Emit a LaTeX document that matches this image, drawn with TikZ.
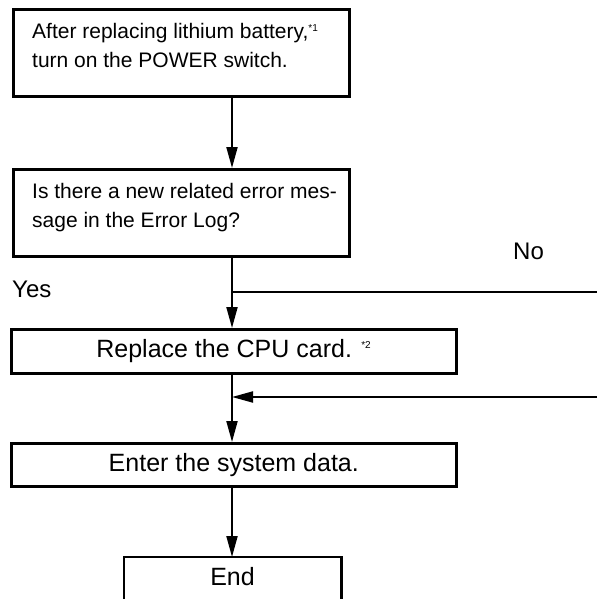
\documentclass[tikz,border=0pt]{standalone}
\usepackage{fontspec}
\setmainfont{Liberation Sans}
\usetikzlibrary{arrows.meta}
\newcommand{\supmark}[1]{\textsuperscript{\fontsize{10}{10}\selectfont #1}}
\tikzset{
  x=1pt, y=-1pt,
  stepbox/.style={draw, line width=2.6pt, inner sep=0pt},
  bigtext/.style={font=\fontsize{25}{29}\selectfont},
  smalltext/.style={font=\fontsize{21}{29}\selectfont, align=left, inner sep=0pt, anchor=base west},
  conn/.style={line width=2pt},
  arr/.style={line width=2pt, -{Triangle[length=21pt,width=11pt]}},
  lbl/.style={inner sep=0pt, font=\fontsize{24}{29}\selectfont, anchor=base west},
}
\begin{document}
\begin{tikzpicture}
\useasboundingbox (0,0) rectangle (597,599);
\coordinate (main) at (232,0);
\node[stepbox, anchor=north west, minimum width=336pt, minimum height=87pt] (b1) at (12,8) {};
\node[smalltext] (t1) at (32,68)
  {After replacing lithium battery,\supmark{*1}\\turn on the POWER switch.};
\node[stepbox, anchor=north west, minimum width=336pt, minimum height=87pt] (b2) at (12,168) {};
\node[smalltext] (t2) at (32,227)
  {Is there a new related error mes-\\sage in the Error Log?};
\node[stepbox, bigtext, anchor=north west, minimum width=445pt, minimum height=44pt] (b3) at (10,328)
  {Replace the CPU card. \supmark{*2}};
\node[stepbox, bigtext, anchor=north west, minimum width=445pt, minimum height=43pt] (b4) at (10,442)
  {Enter the system data.};
\node[inner sep=0pt, anchor=north, minimum width=217pt, minimum height=42pt] (b5) at (232.5,557) {};
\node[bigtext, inner sep=0pt, anchor=base] (endtxt) at (232.5,585) {End};
\draw[line width=2.6pt] ([yshift=-10pt]b5.south west) -- (b5.north west) -- (b5.north east) -- ([yshift=-10pt]b5.south east);
\node[lbl] (yes) at (12,297) {Yes};
\node[lbl] (no) at (513,259) {No};
\coordinate (split) at (232,292);
\coordinate (rightA) at (597,292);
\coordinate (rightB) at (597,397);
\coordinate (join) at (232,397);
\draw[arr] (b1.south -| main) -- (b2.north -| main);
\draw[arr] (b2.south -| main) -- (b3.north -| main);
\draw[conn] (split) -- (rightA);
\draw[arr] (rightB) -- (join);
\draw[arr] (b3.south -| main) -- (b4.north -| main);
\draw[arr] (b4.south -| main) -- (b5.north -| main);
\end{tikzpicture}
\end{document}
